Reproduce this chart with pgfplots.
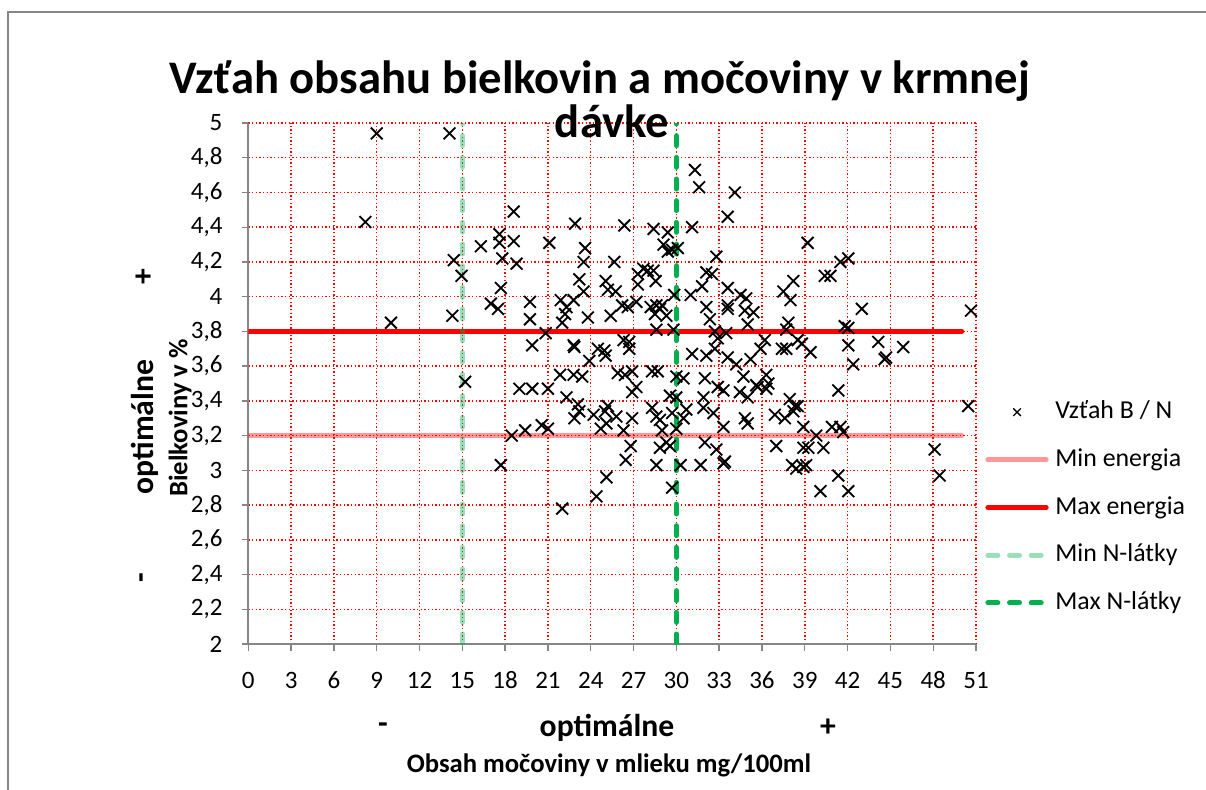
\documentclass[border=0pt]{standalone}
\usepackage{fontspec}
\setmainfont{Carlito}
\usepackage{pgfplots}
\pgfplotsset{compat=1.18}
\usepackage{pgfplotstable}
\definecolor{xlgreen}{RGB}{0,176,80}
\definecolor{framegray}{RGB}{134,134,134}
\pgfplotsset{
  lineleg/.style={legend image code/.code={\draw[##1] (0pt,0pt) -- (35pt,0pt);}},
  markleg/.style={legend image code/.code={\draw[black, line width=0.8pt] plot[only marks, mark=x, mark size=3.2pt] coordinates {(17.5pt,0pt)};}},
}

\pgfplotstableread{
x y
9.0 4.94
14.1 4.94
8.2 4.43
16.3 4.29
14.4 4.21
14.95 4.12
17.0 3.96
14.3 3.89
10.0 3.85
15.2 3.51
31.3 4.73
31.6 4.63
18.6 4.49
22.9 4.42
26.35 4.41
31.1 4.40
28.4 4.39
29.4 4.37
33.6 4.46
17.6 4.36
17.6 4.31
18.6 4.32
21.1 4.31
29.1 4.30
29.4 4.26
29.7 4.27
30.1 4.28
23.6 4.28
23.5 4.20
17.8 4.22
18.8 4.19
25.65 4.20
32.8 4.23
27.7 4.16
28.0 4.15
28.4 4.15
27.3 4.13
28.55 4.09
32.1 4.14
32.5 4.13
31.8 4.06
23.2 4.10
25.05 4.09
25.2 4.04
27.3 4.07
17.7 4.05
23.5 4.03
25.75 4.03
33.6 4.05
29.85 4.01
31.0 4.01
17.5 3.93
19.74 3.97
19.74 3.87
21.9 3.98
22.8 3.98
22.3 3.94
22.2 3.90
22.0 3.85
23.8 3.88
25.4 3.89
26.2 3.95
26.6 3.94
27.2 3.97
28.2 3.94
28.6 3.95
29.0 3.95
28.5 3.90
29.3 3.89
28.85 3.93
32.1 3.94
32.35 3.87
33.6 3.95
20.84 3.79
19.9 3.72
22.8 3.72
22.85 3.71
28.6 3.81
29.8 3.81
26.3 3.75
26.7 3.74
26.7 3.70
24.5 3.70
24.95 3.69
25.05 3.66
23.9 3.63
31.1 3.67
32.1 3.66
32.7 3.70
32.7 3.80
32.9 3.76
21.85 3.55
22.8 3.55
23.4 3.54
25.9 3.56
26.4 3.55
26.9 3.57
27.2 3.48
28.3 3.57
28.7 3.57
30.0 3.54
30.5 3.53
32.0 3.53
32.9 3.48
19.0 3.47
19.9 3.47
21.0 3.47
22.3 3.42
23.1 3.38
23.2 3.34
22.85 3.30
24.2 3.32
25.0 3.34
25.2 3.37
25.8 3.31
26.9 3.45
26.9 3.30
28.3 3.36
28.6 3.31
28.85 3.29
29.55 3.43
30.0 3.42
29.7 3.33
30.5 3.30
30.7 3.35
31.9 3.42
31.9 3.36
32.6 3.33
33.3 3.46
33.3 3.25
18.46 3.20
19.4 3.23
20.56 3.26
21.0 3.24
24.7 3.24
25.1 3.27
26.3 3.23
30.0 3.24
29.0 3.23
26.8 3.14
28.85 3.13
29.3 3.16
29.55 3.14
32.0 3.16
32.8 3.12
17.7 3.03
26.45 3.06
28.6 3.03
30.3 3.03
31.7 3.03
33.3 3.04
25.1 2.96
24.4 2.85
29.7 2.90
22.0 2.78
34.1 4.60
39.2 4.31
41.5 4.20
42.05 4.22
40.4 4.12
40.8 4.12
38.2 4.09
37.5 4.03
38.0 3.98
34.5 4.01
34.9 3.99
33.6 3.93
34.8 3.92
35.4 3.91
35.0 3.84
43.0 3.93
50.65 3.92
37.85 3.85
37.7 3.81
41.8 3.83
42.05 3.82
33.5 3.79
36.2 3.75
35.9 3.70
37.4 3.70
37.7 3.70
38.5 3.75
38.8 3.73
39.4 3.68
42.05 3.72
44.15 3.74
45.9 3.71
44.6 3.64
44.7 3.65
42.4 3.61
33.6 3.65
34.2 3.61
35.2 3.64
34.7 3.54
35.6 3.49
36.3 3.55
36.45 3.50
41.35 3.46
34.45 3.45
35.0 3.42
35.7 3.48
36.3 3.47
50.45 3.37
37.95 3.41
38.3 3.37
38.5 3.37
38.2 3.34
36.9 3.32
37.6 3.30
34.8 3.30
35.0 3.27
38.9 3.25
39.8 3.20
40.9 3.25
41.5 3.25
41.7 3.22
37.0 3.14
38.9 3.13
39.25 3.13
40.3 3.13
48.1 3.12
33.4 3.05
38.1 3.03
38.4 3.01
38.9 3.02
39.1 3.03
41.35 2.97
48.45 2.97
40.1 2.88
42.05 2.88
}\scatterdata

\begin{document}
\begin{tikzpicture}
\useasboundingbox (0pt,0pt) rectangle (723.6pt,-474pt);
\begin{axis}[
  at={(148.98pt,-386.4pt)}, anchor=south west,
  scale only axis, width=436.62pt, height=312.6pt,
  xmin=0, xmax=51, ymin=2, ymax=5,
  axis x line*=bottom, axis y line*=left,
  axis line style={framegray, line width=1.2pt, -},
  xtick={0,3,...,51},
  ytick={2,2.2,2.4,2.6,2.8,3,3.2,3.4,3.6,3.8,4,4.2,4.4,4.6,4.8,5},
  yticklabels={2,{2,2},{2,4},{2,6},{2,8},3,{3,2},{3,4},{3,6},{3,8},4,{4,2},{4,4},{4,6},{4,8},5},
  /pgf/number format/assume math mode=true,
  tick align=outside, major tick length=4pt,
  tick style={framegray, line width=0.8pt},
  ticklabel style={font=\fontsize{15}{15}\selectfont, text=black},
  yticklabel style={xshift=-8pt},
  xticklabel style={yshift=-9pt, text height=10pt, text depth=1pt},
  grid=major,
  major grid style={red, line width=0.9pt, dash pattern=on 0.9pt off 1.3pt},
  legend style={draw=none, fill=none, at={(1.0124,0.468)}, anchor=north west,
    inner sep=0pt, row sep=14.6pt, column sep=4pt,
    font=\fontsize{15.5}{15.5}\selectfont,
    nodes={inner sep=0pt, text height=11pt, text depth=3pt}},
  legend cell align=left,
]
\addplot[only marks, mark=x, mark size=5pt, black, line width=1.1pt, markleg]
  table[x=x, y=y] {\scatterdata};
\addlegendentry{Vzťah B / N}
\addplot[no marks, draw=red, draw opacity=0.4, line width=3pt, line cap=round, lineleg]
  coordinates {(0,3.2) (50,3.2)};
\addlegendentry{Min energia}
\addplot[no marks, draw=red, line width=3pt, line cap=round, lineleg]
  coordinates {(0,3.8) (50,3.8)};
\addlegendentry{Max energia}
\addplot[no marks, draw=xlgreen, draw opacity=0.4, line width=3pt, line cap=round, dash pattern=on 6pt off 7pt, lineleg]
  coordinates {(15,2) (15,5)};
\addlegendentry{Min N-látky}
\addplot[no marks, draw=xlgreen, line width=3pt, line cap=round, dash pattern=on 6pt off 7pt, lineleg]
  coordinates {(30,2) (30,5)};
\addlegendentry{Max N-látky}
\end{axis}
\begin{scope}[x=0.6pt, y=-0.6pt]
\draw[framegray, line width=0.9pt] (8,790) -- (8,12) -- (1206,12);
\node[anchor=base, font=\fontsize{28}{28}\bfseries\selectfont] at (600,93) {Vzťah obsahu bielkovin a močoviny v krmnej};
\node[anchor=base, font=\fontsize{28}{28}\bfseries\selectfont] at (612,137) {dávke};
\node[font=\fontsize{19}{19}\bfseries\selectfont] at (607,728) {optimálne};
\node[font=\fontsize{19}{19}\bfseries\selectfont] at (383,728) {-};
\node[font=\fontsize{19}{19}\bfseries\selectfont] at (828,728) {+};
\node[font=\fontsize{16}{16}\bfseries\selectfont] at (609,765) {Obsah močoviny v mlieku mg/100ml};
\node[rotate=90, font=\fontsize{19}{19}\bfseries\selectfont] at (145,427) {optimálne};
\node[rotate=90, font=\fontsize{19}{19}\bfseries\selectfont] at (145,277) {+};
\node[rotate=90, font=\fontsize{19}{19}\bfseries\selectfont] at (145,578) {-};
\node[rotate=90, font=\fontsize{16}{16}\bfseries\selectfont] at (180,418) {Bielkoviny v \%};
\end{scope}
\end{tikzpicture}
\end{document}
